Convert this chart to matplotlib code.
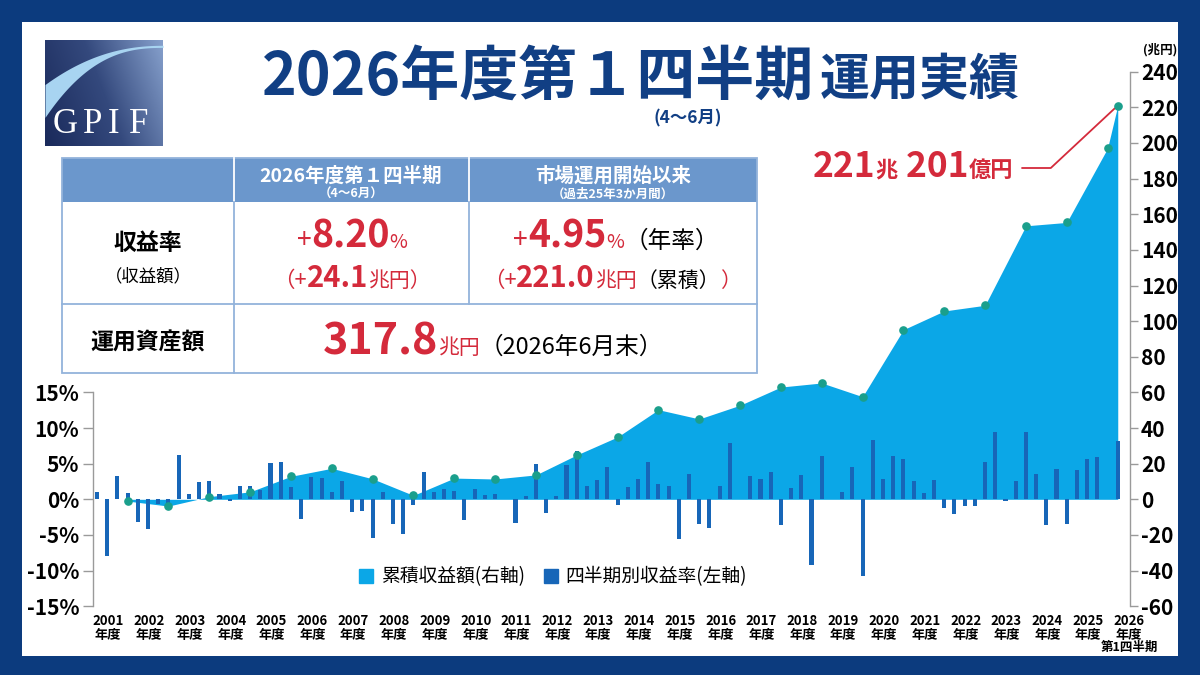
import numpy as np
import matplotlib
matplotlib.use('Agg')
import matplotlib.pyplot as plt
from matplotlib.patches import Rectangle, Patch
from matplotlib.colors import LinearSegmentedColormap

plt.rcParams['font.family'] = ['Noto Sans CJK JP', 'DejaVu Sans']

# ---- data ----
years = [str(y) for y in range(2001, 2027)]
# quarterly return (%), FY2001 Q1 ... FY2026 Q1
quarter_returns = [
    1.0, -7.9, 3.2, 0.9,
    -3.2, -4.1, -0.6, -1.4,
    6.2, 0.8, 2.4, 2.6,
    0.7, -0.2, 1.9, 1.8,
    1.3, 5.1, 5.3, 1.7,
    -2.8, 3.1, 3.0, 1.0,
    2.6, -1.8, -1.7, -5.5,
    1.0, -3.5, -4.9, -0.8,
    3.8, 1.0, 1.5, 1.2,
    -2.9, 1.5, 0.6, 0.7,
    0.1, -3.3, 0.5, 5.0,
    -1.9, 0.4, 4.8, 6.8,
    1.8, 2.7, 4.6, -0.8,
    1.7, 2.8, 5.2, 2.1,
    1.8, -5.6, 3.6, -3.5,
    -4.0, 1.8, 7.9, 0.1,
    3.3, 2.9, 3.8, -3.6,
    1.6, 3.4, -9.2, 6.1,
    0.1, 1.0, 4.5, -10.8,
    8.3, 2.9, 6.1, 5.6,
    2.6, 0.9, 2.7, -1.2,
    -2.0, -1.0, -1.0, 5.3,
    9.4, -0.3, 2.5, 9.5,
    3.6, -3.6, 4.2, -3.5,
    4.1, 5.6, 5.9, 0.1,
    8.2,
]
# cumulative profit (兆円) at each fiscal year end, last one = 2026 Q1
cum_profit = [-1.0, -3.8, 1.5, 4.2, 12.9, 17.4, 11.5, 2.2, 11.9, 11.4,
              13.7, 24.9, 35.0, 50.3, 45.1, 52.8, 63.0, 65.3, 57.6, 95.2,
              105.7, 108.9, 153.5, 155.4, 197.0, 221.0]
left_ticks = [-15, -10, -5, 0, 5, 10, 15]
right_ticks = list(range(-60, 241, 20))

NAVY = '#0c3b7e'
TITLE = '#113f84'
AREA = '#0ba7e7'
BAR = '#1766b8'
DOT = '#1a9f8c'
RED = '#d42a3b'
HEAD = '#6b97cc'
LINE = '#93b3db'

W, H = 1200, 675
fig = plt.figure(figsize=(12, 6.75), dpi=100)
fig.patch.set_facecolor(NAVY)


def fx(px):
    return px / W


def fy(py):
    return 1 - py / H


fig.add_artist(Rectangle((fx(22), fy(656)), fx(1178) - fx(22), fy(22) - fy(656),
                         transform=fig.transFigure, facecolor='white',
                         edgecolor='none', zorder=-1))


def rich(x, y, parts, ha='center'):
    # parts: (text, size, color, weight); y is the baseline in pixels from top
    r = fig.canvas.get_renderer()
    items = []
    for s, size, color, weight in parts:
        items.append(fig.text(0, fy(y), s, fontsize=size, color=color,
                              fontweight=weight, va='baseline', ha='left'))
    ws = [t.get_window_extent(r).width for t in items]
    tot = sum(ws)
    x0 = x - tot / 2 if ha == 'center' else (x - tot if ha == 'right' else x)
    for t, w in zip(items, ws):
        t.set_x(fx(x0))
        x0 += w


# ---- main chart ----
ax_r = fig.add_axes([fx(93), fy(606.2), fx(1130) - fx(93), fy(71.7) - fy(606.2)])
ax_r.patch.set_alpha(0)
ax_l = ax_r.twinx()
ax_l.patch.set_alpha(0)

idx = np.arange(len(quarter_returns))
cum_idx = [4 * k + 3 for k in range(len(years) - 1)] + [len(quarter_returns) - 1]

ax_r.fill_between(cum_idx, cum_profit, 0, color=AREA, lw=0)
ax_l.bar(idx, quarter_returns, width=0.4, color=BAR, zorder=2)
ax_l.plot(cum_idx, cum_profit, 'o', ms=5.2, color=DOT, transform=ax_r.transData,
          zorder=3, clip_on=False)

ax_r.set_xlim(-0.39, 101.2)
ax_r.set_ylim(-60, 240)
ax_l.set_ylim(-15, 60)

ax_r.yaxis.tick_right()
ax_l.yaxis.tick_left()
for a in (ax_r, ax_l):
    for s in a.spines.values():
        s.set_visible(False)
ax_r.spines['right'].set_visible(True)
ax_r.spines['right'].set_bounds(-60, 240)
ax_l.spines['left'].set_visible(True)
ax_l.spines['left'].set_bounds(-15, 15)
for s in (ax_r.spines['right'], ax_l.spines['left']):
    s.set_color('#9a9a9a')
    s.set_linewidth(1)

ax_l.set_yticks(left_ticks, [f'{v}%' for v in left_ticks])
ax_r.set_yticks(right_ticks, [str(v) for v in right_ticks])
ax_l.tick_params(axis='y', length=7, width=1, color='#9a9a9a', pad=3,
                 labelsize=15)
ax_r.tick_params(axis='y', length=6, width=1, color='#9a9a9a', pad=2,
                 labelsize=15)
for lab in ax_l.get_yticklabels() + ax_r.get_yticklabels():
    lab.set_fontweight('bold')

xlabels = [f'{y}\n年度' for y in years]
ax_r.set_xticks([4 * k + 1.1 for k in range(len(years))], xlabels)
ax_r.tick_params(axis='x', length=0, pad=5.5, labelsize=9.5)
for lab in ax_r.get_xticklabels():
    lab.set_fontweight('bold')
    lab.set_linespacing(1.0)
ax_r.annotate('第1四半期', xy=(4 * (len(years) - 1) + 1.1, 0),
              xycoords=('data', 'axes fraction'), xytext=(0, -25),
              textcoords='offset points', ha='center', va='top',
              fontsize=9, fontweight='bold', annotation_clip=False)

fig.text(fx(1160), fy(50), '(兆円)', fontsize=9, ha='center', va='center',
         fontweight='bold')

fig.legend([Patch(color=AREA), Patch(color=BAR)],
           ['累積収益額(右軸)', '四半期別収益率(左軸)'],
           loc='center', bbox_to_anchor=(fx(553), fy(577)), ncol=2,
           frameon=False, fontsize=13.5, handlelength=0.75, handleheight=0.75,
           handletextpad=0.4, columnspacing=1.0)

# annotation of latest cumulative value
ax_r.annotate('', xy=(cum_idx[-1], cum_profit[-1]), xycoords='data',
              xytext=(1022, H - 168), textcoords='figure pixels',
              annotation_clip=False,
              arrowprops=dict(arrowstyle='-', color=RED, lw=1.3, shrinkA=0,
                              shrinkB=3,
                              connectionstyle='angle,angleA=0,angleB=43,rad=0'))
rich(1013, 177, [('221', 25.5, RED, 'bold'), ('兆', 16, RED, 'bold'),
                 (' 201', 25.5, RED, 'bold'), ('億円', 16, RED, 'bold')], ha='right')

# ---- title ----
rich(262, 95, [('2026年度第１四半期', 42.5, TITLE, 'bold'), (' ', 18, TITLE, 'bold'),
               ('運用実績', 36, TITLE, 'bold')], ha='left')
rich(688, 123, [('(4〜6月)', 12.5, TITLE, 'bold')])

# ---- logo ----
lax = fig.add_axes([fx(45), fy(146), fx(163) - fx(45), fy(40) - fy(146)])
uu, vv = np.meshgrid(np.linspace(0, 1, 120), np.linspace(0, 1, 110))
grad = 0.75 * uu + 0.25 * vv
cm = LinearSegmentedColormap.from_list('logo', ['#1a2a5b', '#34497d', '#86a0cc'])
lax.imshow(grad, extent=(0, 1, 0, 1), origin='lower', aspect='auto', cmap=cm)
u = np.linspace(0, 1, 200)
lax.fill_between(u, 0.27 + 0.66 * (1 - (1 - u) ** 2.5),
                 0.58 + 0.37 * (1 - (1 - u) ** 2.2), color='#a8d4f1', lw=0)
for ch, cx in zip('GPIF', [0.17, 0.40, 0.58, 0.79]):
    lax.text(cx, 0.12, ch, color='white', fontsize=25, family='Liberation Serif',
             ha='center', va='baseline', transform=lax.transAxes)
lax.set_xlim(0, 1)
lax.set_ylim(0, 1)
lax.axis('off')

# ---- table ----
def box(x0, y0, x1, y1, **kw):
    fig.add_artist(Rectangle((fx(x0), fy(y1)), fx(x1) - fx(x0), fy(y0) - fy(y1),
                             transform=fig.transFigure, **kw))


def hline(x0, x1, y, color=LINE):
    fig.add_artist(plt.Line2D([fx(x0), fx(x1)], [fy(y), fy(y)], color=color,
                              lw=1.3, transform=fig.transFigure))


def vline(x, y0, y1, color=LINE):
    fig.add_artist(plt.Line2D([fx(x), fx(x)], [fy(y0), fy(y1)], color=color,
                              lw=1.3, transform=fig.transFigure))


box(62, 158, 757, 373, facecolor='white', edgecolor='none')
box(62, 158, 757, 202, facecolor=HEAD, edgecolor='none')
vline(234, 158, 202, 'white')
vline(469, 158, 202, 'white')
vline(234, 202, 373)
vline(469, 202, 304)
hline(62, 757, 304)
box(62, 158, 757, 373, facecolor='none', edgecolor=LINE, lw=1.3)

rich(351, 182, [('2026年度第１四半期', 14, 'white', 'bold')])
rich(351, 198, [('（4〜6月）', 9, 'white', 'bold')])
rich(613, 182, [('市場運用開始以来', 14, 'white', 'bold')])
rich(613, 198, [('（過去25年3か月間）', 9, 'white', 'bold')])

rich(148, 250, [('収益率', 16.5, 'black', 'bold')])
rich(148, 281, [('（収益額）', 12.5, 'black', 'normal')])
rich(148, 350, [('運用資産額', 16.5, 'black', 'bold')])

rich(352, 248, [('+', 19, RED, 'normal'), ('8.20', 27, RED, 'bold'),
                ('%', 14, RED, 'normal')])
rich(352, 287, [('（+', 15.5, RED, 'normal'), ('24.1', 21, RED, 'bold'),
                ('兆円）', 15, RED, 'normal')])
rich(616, 248, [('+', 19, RED, 'normal'), ('4.95', 27, RED, 'bold'),
                ('%', 14, RED, 'normal'), ('（年率）', 17, 'black', 'normal')])
rich(612, 287, [('（+', 15.5, RED, 'normal'), ('221.0', 21, RED, 'bold'),
                ('兆円', 15, RED, 'normal'), ('（累積）', 15, 'black', 'normal'),
                ('）', 15, RED, 'normal')])
rich(493, 354, [('317.8', 31, RED, 'bold'), ('兆円', 15, RED, 'normal'),
                ('（2026年6月末）', 17, 'black', 'normal')])

fig.savefig('out.png', dpi=100, facecolor=fig.get_facecolor())
